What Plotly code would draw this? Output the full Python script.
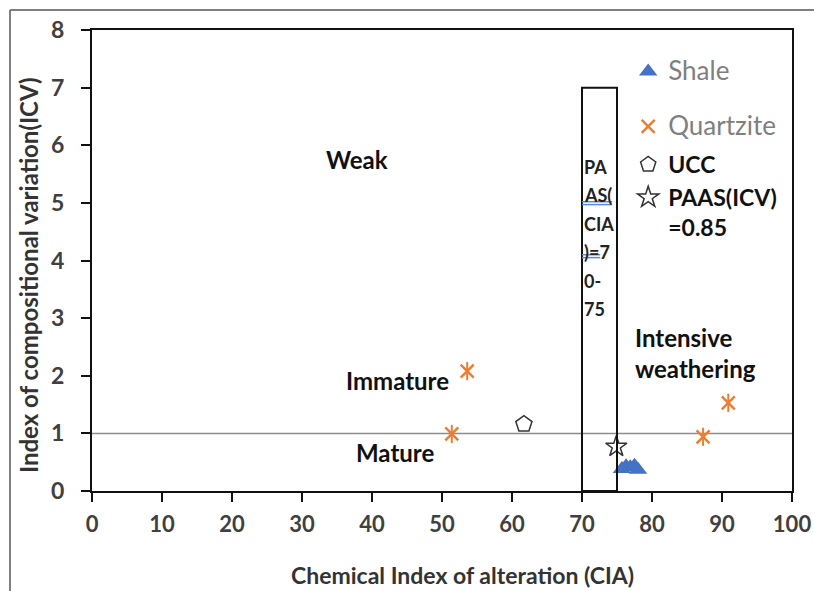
import plotly.graph_objects as go

# ---- data ----
shale_cia = [75.7, 76.3, 76.9, 77.5, 78.0]
shale_icv = [0.38, 0.43, 0.41, 0.44, 0.37]

quartz_cia = [53.6, 51.4, 87.3, 90.9]
quartz_icv = [2.08, 0.99, 0.94, 1.53]

ucc_cia = [61.7]
ucc_icv = [1.16]

paas_cia = [74.9]
paas_icv = [0.77]

x_ticks = [0, 10, 20, 30, 40, 50, 60, 70, 80, 90, 100]
y_ticks = [0, 1, 2, 3, 4, 5, 6, 7, 8]

paas_box = dict(x0=70, x1=75, y0=0, y1=7)
icv_threshold = 1
box_text_lines = ["PA", "AS(", "CIA", ")=7", "0-", "75"]

zones = [
    dict(text="Weak", x=37.9, y=5.76),
    dict(text="Immature", x=43.7, y=1.91),
    dict(text="Mature", x=43.3, y=0.66),
]

FONT = "Lato"
ORANGE = "#ED7D31"
BLUE = "#4472C4"
GRAY_TXT = "#7F7F7F"

fig = go.Figure()

fig.add_trace(go.Scatter(
    x=shale_cia, y=shale_icv, mode="markers",
    name="<span style='color:%s;font-size:26px'>Shale</span>" % GRAY_TXT,
    legend="legend",
    marker=dict(symbol="triangle-up", size=16, color=BLUE),
))
fig.add_trace(go.Scatter(
    x=quartz_cia, y=quartz_icv, mode="markers",
    name="<span style='color:%s;font-size:26px'>Quartzite</span>" % GRAY_TXT,
    legend="legend2",
    marker=dict(symbol="x-thin-open", size=13, color=ORANGE, line=dict(color=ORANGE, width=2.5)),
))
fig.add_trace(go.Scatter(
    x=quartz_cia, y=quartz_icv, mode="markers", showlegend=False,
    marker=dict(symbol="line-ns-open", size=13, color=ORANGE, line=dict(color=ORANGE, width=2)),
))
fig.add_trace(go.Scatter(
    x=ucc_cia, y=ucc_icv, mode="markers", name="<b>UCC</b>",
    legend="legend3",
    marker=dict(symbol="pentagon", size=17, color="white",
                line=dict(color="#333333", width=1.5)),
))
fig.add_trace(go.Scatter(
    x=paas_cia, y=paas_icv, mode="markers", name="<b>PAAS(ICV)<br>=0.85</b>",
    legend="legend3",
    marker=dict(symbol="star", size=16, color="white",
                line=dict(color="#333333", width=1.5)),
))

# threshold line and PAAS box
fig.add_shape(type="line", x0=0, x1=100, y0=icv_threshold, y1=icv_threshold,
              line=dict(color="#8C8C8C", width=1.5), layer="below")
fig.add_shape(type="rect", **paas_box, line=dict(color="#111111", width=2),
              fillcolor="rgba(0,0,0,0)")

# text in box
line_step = 0.495
for i, t in enumerate(box_text_lines):
    fig.add_annotation(x=paas_box["x0"], y=5.63 - i * line_step, text="<b>%s</b>" % t,
                       showarrow=False, xanchor="left", yanchor="middle", xshift=0,
                       font=dict(family=FONT, size=18, color="#222222"))
# spell-check underlines
for yy in [5.02, 4.97]:
    fig.add_shape(type="line", x0=70, x1=74.3, y0=yy, y1=yy,
                  line=dict(color="#5B8BD6", width=1.5))
for yy in [4.10, 4.05]:
    fig.add_shape(type="line", x0=70, x1=72.6, y0=yy, y1=yy,
                  line=dict(color="#5B8BD6", width=1.5))

for z in zones:
    fig.add_annotation(x=z["x"], y=z["y"], text="<b>%s</b>" % z["text"], showarrow=False,
                       font=dict(family=FONT, size=24, color="#111111"))
fig.add_annotation(x=77.3, y=2.4, text="<b>Intensive<br>weathering</b>", showarrow=False,
                   xanchor="left", align="left",
                   font=dict(family=FONT, size=24, color="#111111"))

# x axis title (annotation)
fig.add_annotation(xref="paper", yref="paper", x=0.529, y=-84/461, yanchor="middle",
                   text="<b>Chemical Index of alteration (CIA)</b>", showarrow=False,
                   font=dict(family=FONT, size=23, color="#333333"))
# y axis title (annotation)
fig.add_annotation(xref="paper", yref="paper", x=-64/700, y=(491-276)/461,
                   xanchor="center", yanchor="middle", textangle=-90,
                   text="<b>Index of compositional variation(ICV)</b>", showarrow=False,
                   font=dict(family=FONT, size=24, color="#333333"))

# outer frame of screenshot
fig.add_shape(type="line", xref="paper", yref="paper", x0=-82/700, x1=-82/700,
              y0=1 + 20/461, y1=-100/461, line=dict(color="#555555", width=1.5))
fig.add_shape(type="line", xref="paper", yref="paper", x0=-82/700, x1=1 + 22/700,
              y0=1 + 20/461, y1=1 + 20/461, line=dict(color="#555555", width=1.5))

fig.update_xaxes(range=[0, 100], tickvals=x_ticks, showgrid=False, zeroline=False,
                 showline=True, linecolor="#111111", linewidth=2, mirror=True,
                 ticks="outside", ticklen=9, tickwidth=2, tickcolor="#111111",
                 ticklabelstandoff=4,
                 tickfont=dict(family=FONT, size=22, color="#404040", weight="bold"))
fig.update_yaxes(range=[0, 8], tickvals=y_ticks, showgrid=False, zeroline=False,
                 showline=True, linecolor="#111111", linewidth=2, mirror=True,
                 ticks="outside", ticklen=9, tickwidth=2, tickcolor="#111111",
                 ticklabelstandoff=12,
                 tickfont=dict(family=FONT, size=23, color="#404040", weight="bold"))

leg_common = dict(xanchor="left", yanchor="top", bgcolor="rgba(0,0,0,0)",
                  valign="top", itemwidth=30,
                  font=dict(family=FONT, size=23, color="#111111"))
fig.update_layout(
    width=814, height=591,
    margin=dict(l=92, r=22, t=30, b=100, autoexpand=False),
    plot_bgcolor="white", paper_bgcolor="white",
    showlegend=True,
    legend=dict(x=0.766, y=(491-50)/461, **leg_common),
    legend2=dict(x=0.766, y=(491-105)/461, **leg_common),
    legend3=dict(x=0.766, y=(491-143)/461, **leg_common),
)

fig.write_html("out.html")
